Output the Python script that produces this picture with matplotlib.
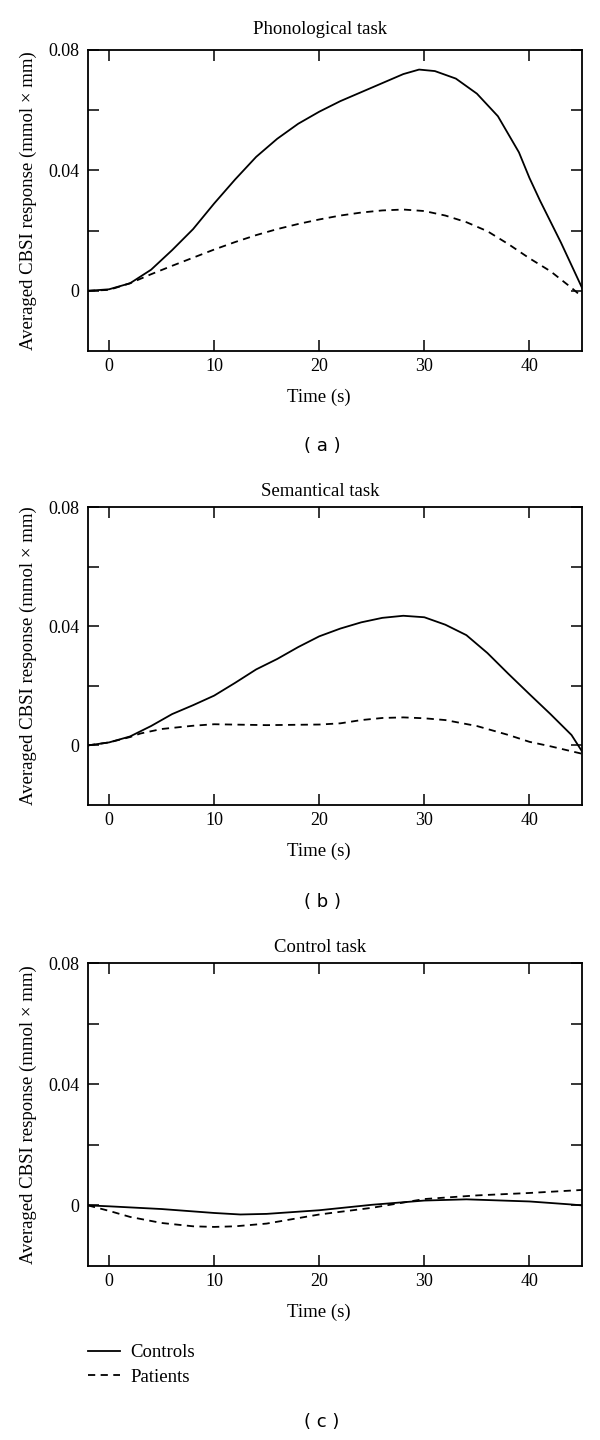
import matplotlib
matplotlib.use("Agg")
import matplotlib.pyplot as plt

# Time axis and responses (s, mmol x mm)
phon_ctrl_t = [-2, 0, 2, 4, 6, 8, 10, 12, 14, 16, 18, 20, 22, 24, 26, 28, 29.5, 31, 33, 35, 37, 39, 40, 41, 43, 45]
phon_ctrl_y = [0, 0.0005, 0.0025, 0.007, 0.0135, 0.0205, 0.029, 0.037, 0.0445, 0.0505, 0.0555, 0.0595, 0.063,
               0.066, 0.069, 0.072, 0.0735, 0.073, 0.0705, 0.0655, 0.058, 0.046, 0.0375, 0.030, 0.016, 0.001]
phon_pat_t = [-2, 0, 2, 4, 6, 8, 10, 12, 14, 16, 18, 20, 22, 24, 26, 28, 30, 32, 34, 36, 38, 40, 42, 44, 45]
phon_pat_y = [0, 0.0003, 0.0025, 0.0055, 0.0083, 0.011, 0.0137, 0.0162, 0.0185, 0.0205, 0.0222, 0.0237, 0.025,
              0.026, 0.0267, 0.027, 0.0265, 0.025, 0.0228, 0.0198, 0.0155, 0.0108, 0.0065, 0.001, -0.002]

sem_ctrl_t = [-2, 0, 2, 4, 6, 8, 10, 12, 14, 16, 18, 20, 22, 24, 26, 28, 30, 32, 34, 36, 38, 40, 42, 44, 45]
sem_ctrl_y = [0, 0.001, 0.003, 0.0065, 0.0105, 0.0135, 0.0167, 0.021, 0.0255, 0.029, 0.033, 0.0366, 0.0392,
              0.0413, 0.0428, 0.0435, 0.043, 0.0405, 0.037, 0.031, 0.024, 0.0172, 0.0105, 0.0035, -0.002]
sem_pat_t = [-2, 0, 2, 3, 5, 8, 10, 15, 20, 22, 24, 26, 28, 30, 32, 35, 38, 40, 42, 45]
sem_pat_y = [0, 0.001, 0.0028, 0.004, 0.0055, 0.0066, 0.0071, 0.0068, 0.007, 0.0074, 0.0085, 0.0092, 0.0094,
             0.0091, 0.0085, 0.0065, 0.0035, 0.0012, -0.0003, -0.0028]

ctl_ctrl_t = [-2, 0, 5, 10, 12.5, 15, 20, 25, 30, 34, 40, 44, 45]
ctl_ctrl_y = [0, -0.0003, -0.0012, -0.0025, -0.003, -0.0028, -0.0016, 0.0002, 0.0016, 0.002, 0.0013, 0.0003, 0]
ctl_pat_t = [-2, 0, 2, 5, 8, 10, 12, 15, 20, 25, 30, 35, 40, 45]
ctl_pat_y = [0, -0.0018, -0.0038, -0.0058, -0.0069, -0.0071, -0.0069, -0.006, -0.003, -0.0008, 0.0021,
             0.0033, 0.0041, 0.0051]

titles = ["Phonological task", "Semantical task", "Control task"]
sublabels = ["( a )", "( b )", "( c )"]
xticks = [0, 10, 20, 30, 40]
yticks = [0, 0.02, 0.04, 0.06, 0.08]
yticklabels = ["0", "", "0.04", "", "0.08"]

plt.rcParams["font.family"] = ["Liberation Serif", "DejaVu Serif"]
plt.rcParams["font.size"] = 13.5

W, H = 600, 1440
fig = plt.figure(figsize=(W / 100, H / 100), dpi=100)

# axes top / bottom in pixels (from the reference)
ax_px = [(50, 351), (507, 805), (963, 1266)]
title_px = [30, 492, 947]
sub_px = [446, 902, 1422]
left_px, right_px = 88, 582

series = [(phon_ctrl_t, phon_ctrl_y, phon_pat_t, phon_pat_y),
          (sem_ctrl_t, sem_ctrl_y, sem_pat_t, sem_pat_y),
          (ctl_ctrl_t, ctl_ctrl_y, ctl_pat_t, ctl_pat_y)]

for i, (ct, cy, pt, py) in enumerate(series):
    top, bot = ax_px[i]
    h = bot - top
    ax = fig.add_axes([left_px / W, 1 - bot / H, (right_px - left_px) / W, h / H])
    ax.plot(ct, cy, color="black", lw=1.3, label="Controls")
    ax.plot(pt, py, color="black", lw=1.3, ls=(0, (4, 3)), label="Patients")
    ax.set_xlim(-2, 45)
    ax.set_ylim(-0.02, 0.08)
    ax.set_xticks(xticks)
    ax.set_yticks(yticks)
    ax.set_yticklabels(yticklabels)
    ax.tick_params(direction="in", length=8, width=1.1, top=True, right=True, labelsize=13)
    ax.tick_params(axis="x", pad=5)
    ax.tick_params(axis="y", pad=6)
    for s in ax.spines.values():
        s.set_linewidth(1.3)
    fig.text(320 / W, 1 - title_px[i] / H, titles[i], ha="center", va="center", fontsize=13.5)
    ax.set_xlabel("Time (s)", va="center")
    ax.xaxis.set_label_coords(0.468, -46 / h)
    ax.set_ylabel("Averaged CBSI response (mmol \u00d7 mm)", va="center")
    ax.yaxis.set_label_coords((28 - left_px) / (right_px - left_px), 0.5)
    fig.text(322 / W, 1 - sub_px[i] / H, sublabels[i], ha="center", va="center",
             family=["DejaVu Sans"], fontsize=13)
    if i == 2:
        handles, labels = ax.get_legend_handles_labels()

fig.legend(handles, labels, loc="upper left", bbox_to_anchor=(88 / W, 1 - 1344 / H),
           frameon=False, borderpad=0, borderaxespad=0, handlelength=1.7,
           handletextpad=0.55, labelspacing=0.4, fontsize=13.5)

fig.savefig("out.png", dpi=100)
plt.close(fig)
